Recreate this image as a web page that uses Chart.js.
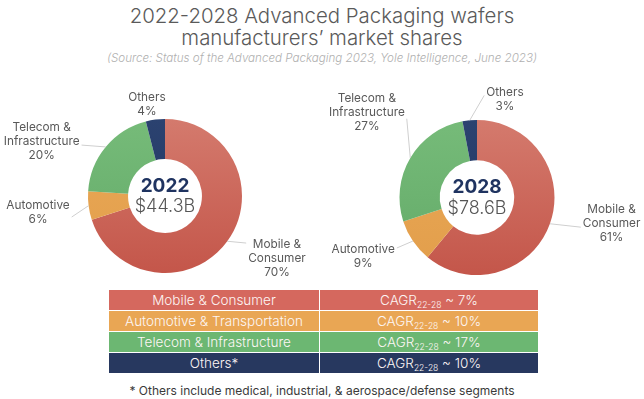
<!DOCTYPE html>
<html>
<head>
<meta charset="utf-8">
<script src="https://cdn.jsdelivr.net/npm/chart.js@4.4.1/dist/chart.umd.min.js"></script>
<style>
  html, body { margin: 0; padding: 0; background: #fff; }
  body { width: 644px; height: 399px; position: relative; overflow: hidden; font-family: Inter, 'Noto Sans', sans-serif; }
  .titulo { position: absolute; left: 0; width: 644px; text-align: center; color: #5a5a5a; font-weight: 300; font-size: 20.4px; line-height: 22px; }
  .fuente { position: absolute; left: 0; width: 644px; top: 51px; text-align: center; color: #b0b0b0; font-style: italic; font-weight: 300; font-size: 11.6px; }
  canvas { position: absolute; top: 80px; }
  #tabla { position: absolute; left: 109px; top: 289px; width: 429px; border-collapse: collapse; font-size: 13.5px; font-weight: 300; color: #fdf6f5; }
  #tabla td { height: 20px; padding: 0; text-align: center; border: 1px solid #fff; line-height: 19px; }
  #tabla td:first-child { width: 210px; border-left: none; }
  #tabla td:last-child { border-right: none; }
  #tabla sub { font-size: 8.5px; vertical-align: -3px; line-height: 0; }
  .nota { position: absolute; left: 0; width: 644px; top: 383px; text-align: center; color: #3a3a3a; font-size: 12px; }
</style>
</head>
<body>
<div class="titulo" style="top:5px">2022-2028 Advanced Packaging wafers</div>
<div class="titulo" style="top:27px">manufacturers’ market shares</div>
<div class="fuente">(Source: Status of the Advanced Packaging 2023, Yole Intelligence, June 2023)</div>
<canvas id="grafica2022" width="322" height="205" style="left:0"></canvas>
<canvas id="grafica2028" width="322" height="205" style="left:322px"></canvas>
<table id="tabla"></table>
<div class="nota">* Others include medical, industrial, &amp; aerospace/defense segments</div>

<script>
/* Datos */
const segmentos = [['Mobile &', 'Consumer'], ['Automotive'], ['Telecom &', 'Infrastructure'], ['Others']];
const cuota2022 = [70, 6, 20, 4];
const cuota2028 = [61, 9, 27, 3];
const anios = ['2022', '2028'];
const mercados = ['$44.3B', '$78.6B'];
const filasTabla = ['Mobile & Consumer', 'Automotive & Transportation', 'Telecom & Infrastructure', 'Others*'];
const cagr = [7, 10, 17, 10];

/* Estilos */
const colorArriba = ['#d47a6d', '#eaa957', '#76bb79', '#2b4270'];
const colorAbajo = ['#c4564a', '#e29e4b', '#63aa68', '#22355e'];
const coloresTabla = ['#d5685e', '#e9a654', '#6cb772', '#27385f'];

// donde va cada etiqueta: giro (grados) respecto al centro del sector, distancia al centro
const posiciones2022 = [
  { giro: -7, dist: 128, dy: -15, linea: true },
  { giro: 0, dist: 128, dy: 5, linea: true },
  { giro: -15.6, dist: 135, dy: 4, linea: true },
  { giro: -4, dist: 93, dy: 0, linea: false }
];
const posiciones2028 = [
  { giro: -9, dist: 137, dy: 4, linea: true },
  { giro: 7, dist: 128, dy: -8, linea: true },
  { giro: 7, dist: 139, dy: 6, linea: true },
  { giro: 21.3, dist: 102, dy: -4, linea: true }
];

/* Etiquetas fuera de la dona */
const etiquetasExternas = {
  id: 'etiquetasExternas',
  afterDatasetsDraw(chart, args, opts) {
    const ctx = chart.ctx;
    const meta = chart.getDatasetMeta(0);
    const valores = chart.data.datasets[0].data;
    ctx.save();
    ctx.font = '11.8px Inter';
    ctx.textAlign = 'center';
    ctx.textBaseline = 'middle';
    meta.data.forEach((arc, i) => {
      const p = arc.getProps(['x', 'y', 'startAngle', 'endAngle', 'outerRadius']);
      const medio = (p.startAngle + p.endAngle) / 2;
      const pos = opts.posiciones[i];
      const a = medio + pos.giro * Math.PI / 180;
      const tx = p.x + pos.dist * Math.cos(a);
      const ty = p.y + pos.dist * Math.sin(a);
      const lineas = [...segmentos[i], valores[i] + '%'];
      if (pos.linea) {
        const ancho = Math.max(...lineas.map(t => ctx.measureText(t).width));
        const ex = tx + (tx < p.x ? 1 : -1) * (ancho / 2 + 2);
        ctx.beginPath();
        ctx.moveTo(p.x + p.outerRadius * Math.cos(medio), p.y + p.outerRadius * Math.sin(medio));
        ctx.lineTo(ex, ty + pos.dy);
        ctx.strokeStyle = '#cfcfcf';
        ctx.lineWidth = 1;
        ctx.stroke();
      }
      ctx.fillStyle = '#595959';
      lineas.forEach((t, k) => ctx.fillText(t, tx, ty + (k - (lineas.length - 1) / 2) * 14));
    });
    ctx.restore();
  }
};

/* Texto del centro */
const textoCentro = {
  id: 'textoCentro',
  afterDraw(chart, args, opts) {
    const ctx = chart.ctx;
    const arc = chart.getDatasetMeta(0).data[0];
    ctx.save();
    ctx.textAlign = 'center';
    ctx.textBaseline = 'middle';
    ctx.font = 'bold 19px Inter';
    ctx.fillStyle = '#1f3360';
    ctx.fillText(opts.anio, arc.x, arc.y - 10);
    ctx.font = '300 18px Inter';
    ctx.fillStyle = '#555';
    ctx.fillText(opts.mercado, arc.x, arc.y + 11);
    ctx.restore();
  }
};

function crearDona(id, valores, k, posiciones, padding) {
  return new Chart(document.getElementById(id), {
    type: 'doughnut',
    data: {
      labels: segmentos.map(s => s.join(' ')),
      datasets: [{
        data: valores,
        borderWidth: 0,
        backgroundColor: c => {
          const area = c.chart.chartArea;
          if (!area) return colorArriba[c.dataIndex];
          const g = c.chart.ctx.createLinearGradient(0, area.top, 0, area.bottom);
          g.addColorStop(0, colorArriba[c.dataIndex]);
          g.addColorStop(1, colorAbajo[c.dataIndex]);
          return g;
        }
      }]
    },
    options: {
      responsive: false,
      animation: false,
      events: [],
      cutout: '48%',
      layout: { padding: padding },
      plugins: {
        legend: { display: false },
        tooltip: { enabled: false },
        etiquetasExternas: { posiciones: posiciones },
        textoCentro: { anio: anios[k], mercado: mercados[k] }
      }
    },
    plugins: [etiquetasExternas, textoCentro]
  });
}

crearDona('grafica2022', cuota2022, 0, posiciones2022, { left: 88, right: 80, top: 39, bottom: 12 });
crearDona('grafica2028', cuota2028, 1, posiciones2028, { left: 77.5, right: 89.5, top: 40, bottom: 10 });

/* Tabla CAGR */
const tabla = document.getElementById('tabla');
filasTabla.forEach((nombre, i) => {
  const tr = document.createElement('tr');
  tr.style.background = coloresTabla[i];
  const td1 = document.createElement('td');
  td1.textContent = nombre;
  const td2 = document.createElement('td');
  td2.innerHTML = 'CAGR<sub>22-28</sub> ~ ' + cagr[i] + '%';
  tr.appendChild(td1);
  tr.appendChild(td2);
  tabla.appendChild(tr);
});
</script>
</body>
</html>
